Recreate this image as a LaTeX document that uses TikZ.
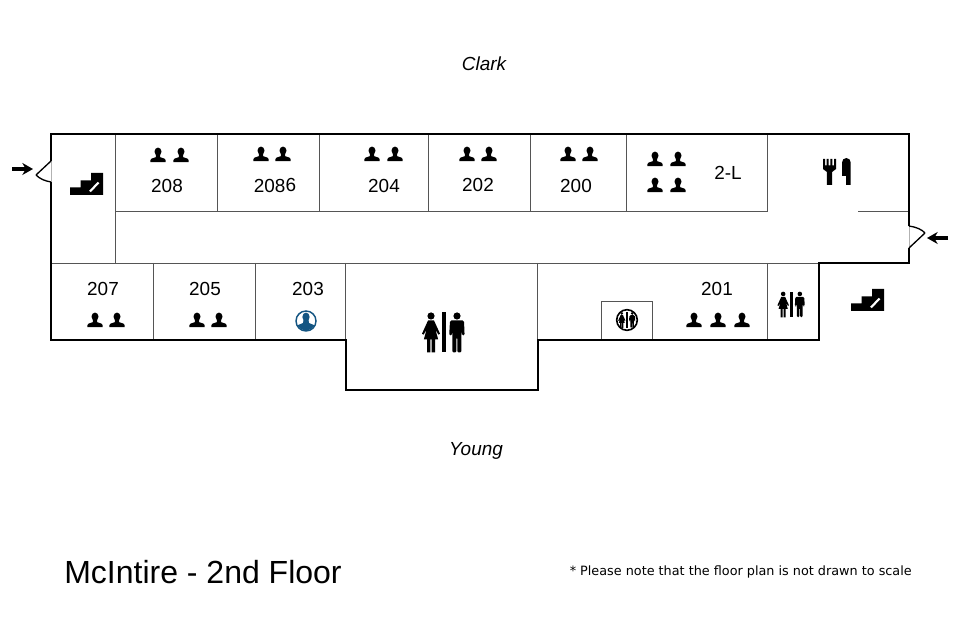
\documentclass[tikz,border=0pt]{standalone}
\usepackage{fontspec}
\setmainfont{Liberation Sans}
\newfontfamily\notefont{DejaVu Sans}
\definecolor{wallgrey}{RGB}{85,85,85}
\definecolor{seatblue}{RGB}{20,85,130}
\usetikzlibrary{arrows.meta}
\tikzset{
  >={Stealth[length=8pt,width=9pt]},
  wall/.style={draw=black, line width=1.5pt, line join=miter},
  partition/.style={draw=wallgrey, line width=.6pt},
  doorleaf/.style={draw=black, line width=1pt},
  doorarrow/.style={->, line width=2.8pt},
  room/.style={font=\fontsize{14.2pt}{16pt}\selectfont, inner sep=0pt},
  street/.style={font=\fontsize{14.2pt}{16pt}\selectfont\itshape, inner sep=0pt},
  person/.pic={
    \fill (0,-3.4) ellipse (3.5 and 4);
    \fill (-2,-1) -- (2,-1) -- (2.2,2.2) -- (6.4,3.6) -- (7.5,5) -- (7.6,7.2)
      -- (-7.6,7.2) -- (-7.5,5) -- (-6.4,3.6) -- (-2.2,2.2) -- cycle;
  },
  stairs/.pic={
    \fill (0,0) -- (0,-7.5) -- (10.5,-7.5) -- (10.5,-14.5) -- (21,-14.5)
      -- (21,-22) -- (33,-22) -- (33,0) -- cycle;
    \draw[white, line width=1.6pt] (20,-3.5) -- (28.5,-12.5);
  },
  restroom/.pic={
    % woman
    \fill (-13,-16.5) circle (3.6);
    \fill (-16,-12) -- (-10,-12) -- (-4,1.2) -- (-5.6,2.2) -- (-8.6,-3) -- (-5.8,7)
      -- (-9,7) -- (-9,20) -- (-12.3,20) -- (-12.3,7) -- (-13.7,7) -- (-13.7,20)
      -- (-17,20) -- (-17,7) -- (-20.2,7) -- (-17.4,-3) -- (-20.4,2.2)
      -- (-22,1.2) -- cycle;
    % divider
    \fill (-1.7,-20) rectangle (1.7,20);
    % man
    \fill (13,-16.5) circle (3.6);
    \fill[rounded corners=1pt] (6,-12) -- (20,-12) -- (20.6,3) -- (18,3)
      -- (17.4,-4) -- (17.4,20) -- (13.4,20) -- (13.4,5) -- (12.4,5) -- (12.4,20)
      -- (8.4,20) -- (8.4,-4) -- (7.8,3) -- (5.2,3) -- cycle;
  },
  cutlery/.pic={
    % fork
    \fill (0,0) -- (2,0) -- (2,6.5) -- (3.7,6.5) -- (3.7,0) -- (5.7,0) -- (5.7,6.5)
      -- (7.3,6.5) -- (7.3,0) -- (9.3,0) -- (9.3,6.5) -- (11,6.5) -- (11,0) -- (13,0)
      -- (13,10) -- (9.1,13) -- (9.1,26) -- (3.9,26) -- (3.9,13) -- (0,10) -- cycle;
    % knife
    \fill (19,3.5) arc (180:360:4.35 and 4.5) -- (27.7,26) -- (23,26) -- (23,17)
      -- (19,17) -- cycle;
  },
}

\begin{document}
\begin{tikzpicture}[x=.75pt, y=-.75pt]
  \useasboundingbox (0,0) rectangle (979,634);

  % partitions
  \draw[partition] (115,134) -- (115,263);
  \draw[partition] (115,211) -- (767.5,211) (858,211) -- (909,211);
  \draw[partition] (51,263) -- (818.8,263);
  \foreach \wallx in {217.5,319.5,428.5,530.5,626.5,767.5}
    \draw[partition] (\wallx,134) -- (\wallx,211);
  \foreach \wallx in {153.5,255.5,345.8,537.8,767.5}
    \draw[partition] (\wallx,263) -- (\wallx,340);
  \draw[partition] (601,340) -- (601,301) -- (652.5,301) -- (652.5,340);

  % outer walls, broken at the two doors
  \draw[wall] (51,161) -- (51,134) -- (909,134) -- (909,226);
  \draw[wall] (909,248) -- (909,263) -- (818.8,263) -- (818.8,340) -- (537.8,340)
    -- (537.8,390) -- (345.8,390) -- (345.8,340) -- (51,340) -- (51,182);
  \draw[draw=black!30, line width=.6pt] (51,161) -- (51,182) (909,226) -- (909,248);

  % doors
  \coordinate (doorwest) at (51,161);
  \coordinate (doorwesttip) at (36,175);
  \coordinate (doorwestend) at (51,182);
  \coordinate (dooreast) at (909,248);
  \coordinate (dooreasttip) at (925,233);
  \coordinate (dooreastend) at (909,226);
  \draw[doorleaf] (doorwest) -- (doorwesttip);
  \draw[doorleaf] (doorwesttip) .. controls (40,179) and (45,181) .. (doorwestend);
  \draw[doorleaf] (dooreast) -- (dooreasttip);
  \draw[doorleaf] (dooreasttip) .. controls (922,229.5) and (916,227) .. (dooreastend);
  \coordinate (arrowwesta) at (12,169);
  \coordinate (arrowwestb) at (33,169);
  \coordinate (arroweasta) at (948,238);
  \coordinate (arroweastb) at (927,238);
  \draw[doorarrow] (arrowwesta) -- (arrowwestb);
  \draw[doorarrow] (arroweasta) -- (arroweastb);

  % rooms
  \node[room] (r208) at (167,186) {208};
  \node[room] (r208b) at (275,185.5) {208\raisebox{1pt}{6}};
  \node[room] (r204) at (384,186) {204};
  \node[room] (r202) at (478,185) {202};
  \node[room] (r200) at (576,186) {200};
  \node[room] (r2l) at (728,173) {2-L};
  \node[room] (r207) at (103,289) {207};
  \node[room] (r205) at (205,289) {205};
  \node[room] (r203) at (308,289) {203};
  \node[room] (r201) at (717,289) {201};

  % seats
  \foreach \seatx/\seaty in {158/155,181/155,261/154,283/154,372/154,395/154,
      467/154,489/154,568/154,590/154,655/159,678/159,655/185,678/185,
      95/320,117/320,197/320,219/320,694/320,718/320,742/320}
    \pic at (\seatx,\seaty) {person};
  \draw[seatblue, line width=1.1pt, fill=white] (306,321) circle (10);
  \begin{scope}
    \clip (306,321) circle (9.4);
    \fill[seatblue] (306,317) ellipse (3.6 and 4.4);
    \fill[seatblue] (303.5,320) -- (308.5,320) -- (309,323) -- (315,325.5)
      -- (316,332) -- (296,332) -- (297,325.5) -- (303,323) -- cycle;
  \end{scope}

  % stairs, restrooms and cafe
  \pic at (70,195) {stairs};
  \pic at (851,311) {stairs};
  \pic at (444,332.5) {restroom};
  \pic[scale=.64] at (791.5,304.5) {restroom};
  \draw[line width=1.2pt, fill=white] (627,320) circle (10.3);
  \pic[scale=.4] at (627,320) {restroom};
  \pic at (823,159) {cutlery};

  % streets and title
  \node[street] (clark) at (484,64) {Clark};
  \node[street] (young) at (476,451) {Young};
  \node[anchor=west, inner sep=0pt, font=\fontsize{24pt}{28pt}\selectfont] (title) at (64,572) {McIntire - 2nd Floor};
  \node[anchor=east, inner sep=0pt, font=\notefont\fontsize{9.6pt}{12pt}\selectfont] (note) at (912,571.5) {* Please note that the floor plan is not drawn to scale};
\end{tikzpicture}
\end{document}
